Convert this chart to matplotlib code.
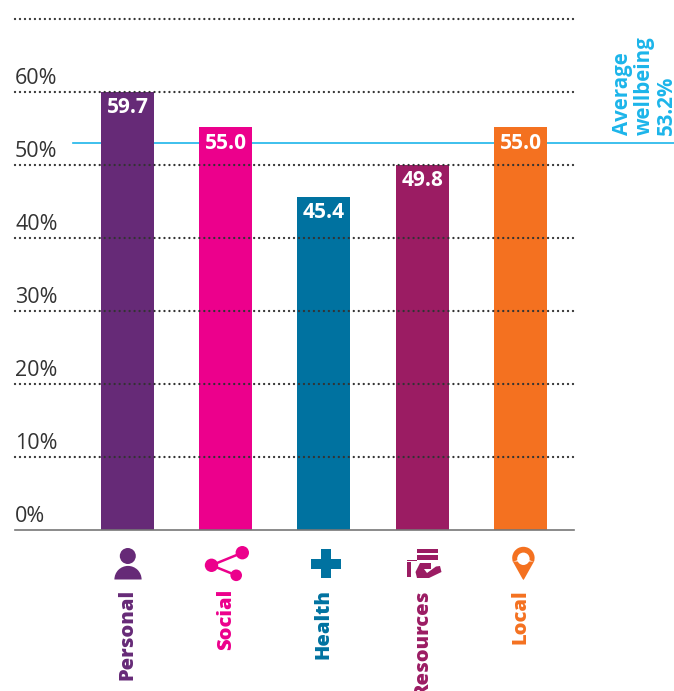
import matplotlib
matplotlib.use('Agg')
import matplotlib.pyplot as plt
from matplotlib.patches import Circle, Polygon, Rectangle, Wedge

plt.rcParams['font.family'] = ['Open Sans', 'DejaVu Sans']

categories = ['Personal', 'Social', 'Health', 'Resources', 'Local']
bar_labels = ['59.7', '55.0', '45.4', '49.8', '55.0']
# heights, the printed labels differ a little
bar_heights = [60.0, 55.1, 45.6, 50.0, 55.1]
bar_colors = ['#662a77', '#ec008c', '#0072a0', '#9b1c63', '#f47120']
y_ticks = [0, 10, 20, 30, 40, 50, 60]
grid_levels = [10, 20, 30, 40, 50, 60, 70]
average_drawn = 52.9
average_label = 'Average\nwellbeing\n53.2%'
average_color = '#1cb5ea'
text_color = '#333333'

W, H = 674, 691
fig = plt.figure(figsize=(W / 100, H / 100), dpi=100)

# axes box in pixels, baseline at 529.5 and top dotted line at 18.5
ax = fig.add_axes([15 / W, 1 - 529.5 / H, 559 / W, 511 / H])
ax.set_xlim(-1.145, 4.545)
ax.set_ylim(0, 70)
ax.patch.set_alpha(0)

ax.bar(range(5), bar_heights, width=0.54, color=bar_colors, zorder=2)
ax.axhline(average_drawn, xmin=0.104, xmax=1.179, color=average_color,
           linewidth=1.2, clip_on=False, zorder=1)
for v in grid_levels:
    ax.axhline(v, color=text_color, linewidth=1.7, linestyle=(0, (0.01, 2.1)),
               dash_capstyle='round', clip_on=False, zorder=3)

for v in y_ticks:
    ax.annotate(f'{v}%', (0, v), xycoords=('axes fraction', 'data'),
                xytext=(0, 2), textcoords='offset points', ha='left',
                va='bottom', fontsize=15.5, color=text_color)

for i, (h, lab) in enumerate(zip(bar_heights, bar_labels)):
    ax.annotate(lab, (i, h), xytext=(0, -4), textcoords='offset points',
                ha='center', va='top', fontsize=15, fontweight='bold',
                color='white', zorder=4)

ax.spines[['top', 'right', 'left']].set_visible(False)
ax.spines['bottom'].set_color('#777777')
ax.spines['bottom'].set_linewidth(1.2)
ax.set_yticks([])
ax.set_xticks(range(5), labels=categories)
ax.tick_params(axis='x', length=0, pad=43)
for lab, c in zip(ax.get_xticklabels(), bar_colors):
    lab.set(rotation=90, ha='center', va='top', fontsize=14.5,
            fontweight=800, color=c)

ax.annotate(average_label, (1, average_drawn),
            xycoords=('axes fraction', 'data'), xytext=(50.5, 6),
            textcoords='offset points', rotation=90, ha='center', va='bottom',
            multialignment='left', fontsize=14.8, fontweight='bold',
            linespacing=1.05, color=average_color, annotation_clip=False)

# overlay in pixel coordinates for the icons
ic = fig.add_axes([0, 0, 1, 1])
ic.set_xlim(0, W)
ic.set_ylim(H, 0)
ic.axis('off')
ic.patch.set_alpha(0)

# person
c = bar_colors[0]
ic.add_patch(Circle((127.8, 556), 8, color=c, lw=0))
ic.add_patch(Wedge((128, 579.5), 13.6, 180, 360, color=c, lw=0))

# share
c = bar_colors[1]
nodes = [(242.3, 552.7, 6.7), (211.5, 565.3, 6.7), (236.2, 575.3, 5.8)]
for n in (nodes[0], nodes[2]):
    ic.plot([nodes[1][0], n[0]], [nodes[1][1], n[1]], color=c, lw=1.8)
for x, y, r in nodes:
    ic.add_patch(Circle((x, y), r, color=c, lw=0))

# cross
c = bar_colors[2]
ic.add_patch(Rectangle((311, 559.3), 29.6, 9.6, color=c, lw=0))
ic.add_patch(Rectangle((320.7, 549), 10, 29.4, color=c, lw=0))

# resources: stack of notes above a hand
c = bar_colors[3]
ic.add_patch(Rectangle((416.7, 549), 21.6, 4.3, color=c, lw=0))
ic.add_patch(Rectangle((416.7, 555), 21.6, 4.8, color=c, lw=0))
ic.add_patch(Rectangle((406.7, 561.7), 4, 15.6, color=c, lw=0))
ic.add_patch(Rectangle((406.7, 560), 10, 1.2, color=c, lw=0))
ic.add_patch(Polygon([(417, 578), (415.5, 572), (420, 563), (431, 563), (431, 569), (424, 569),
                      (427, 573), (436, 566.5), (440, 566), (441.5, 572), (429, 578)],
                     color=c, lw=0))

# pin
c = bar_colors[4]
ic.add_patch(Wedge((523.4, 558), 11.2, 160, 380, color=c, lw=0))
ic.add_patch(Polygon([(512.8, 561.5), (534, 561.5), (524.5, 578.5), (523.4, 580), (522.3, 578.5)],
                     color=c, lw=0))
ic.add_patch(Circle((523.4, 558.8), 6.2, color='white', lw=0))

fig.savefig('out.png', dpi=100)
